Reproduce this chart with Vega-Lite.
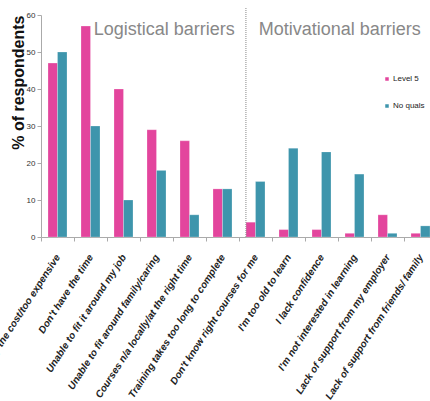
{
  "$schema": "https://vega.github.io/schema/vega-lite/v6.json",
  "autosize": "none",
  "width": 389,
  "height": 222,
  "padding": {"left": 41, "top": 15, "right": 0, "bottom": 164},
  "background": "white",
  "config": {"view": {"stroke": null}, "font": "Liberation Sans"},
  "resolve": {"axis": {"x": "independent", "y": "independent"}},
  "datasets": {
    "bars": [
      {"cat": "Put off by the cost/too expensive", "group": "Level 5", "pct": 47},
      {"cat": "Put off by the cost/too expensive", "group": "No quals", "pct": 50},
      {"cat": "Don't have the time", "group": "Level 5", "pct": 57},
      {"cat": "Don't have the time", "group": "No quals", "pct": 30},
      {"cat": "Unable to fit it around my job", "group": "Level 5", "pct": 40},
      {"cat": "Unable to fit it around my job", "group": "No quals", "pct": 10},
      {"cat": "Unable to fit around family/caring", "group": "Level 5", "pct": 29},
      {"cat": "Unable to fit around family/caring", "group": "No quals", "pct": 18},
      {"cat": "Courses n/a locally/at the right time", "group": "Level 5", "pct": 26},
      {"cat": "Courses n/a locally/at the right time", "group": "No quals", "pct": 6},
      {"cat": "Training takes too long to complete", "group": "Level 5", "pct": 13},
      {"cat": "Training takes too long to complete", "group": "No quals", "pct": 13},
      {"cat": "Don't know right courses for me", "group": "Level 5", "pct": 4},
      {"cat": "Don't know right courses for me", "group": "No quals", "pct": 15},
      {"cat": "I'm too old to learn", "group": "Level 5", "pct": 2},
      {"cat": "I'm too old to learn", "group": "No quals", "pct": 24},
      {"cat": "I lack confidence", "group": "Level 5", "pct": 2},
      {"cat": "I lack confidence", "group": "No quals", "pct": 23},
      {"cat": "I'm not interested in learning", "group": "Level 5", "pct": 1},
      {"cat": "I'm not interested in learning", "group": "No quals", "pct": 17},
      {"cat": "Lack of support from my employer", "group": "Level 5", "pct": 6},
      {"cat": "Lack of support from my employer", "group": "No quals", "pct": 1},
      {"cat": "Lack of support from friends/ family", "group": "Level 5", "pct": 1},
      {"cat": "Lack of support from friends/ family", "group": "No quals", "pct": 3}
    ],
    "headings": [
      {"cat": "Don't have the time", "label": "Logistical barriers", "y": 56},
      {"cat": "Don't know right courses for me", "label": "Motivational barriers", "y": 56}
    ],
    "divider": [
      {"cat": "Don't know right courses for me", "y0": 0, "y1": 62}
    ]
  },
  "layer": [
    {
      "data": {"name": "bars"},
      "mark": {"type": "bar", "stroke": "white", "strokeWidth": 0.4, "strokeOpacity": 0.6},
      "encoding": {
        "x": {
          "field": "cat", "type": "nominal", "sort": null,
          "scale": {
            "domain": ["Put off by the cost/too expensive", "Don't have the time", "Unable to fit it around my job", "Unable to fit around family/caring", "Courses n/a locally/at the right time", "Training takes too long to complete", "Don't know right courses for me", "I'm too old to learn", "I lack confidence", "I'm not interested in learning", "Lack of support from my employer", "Lack of support from friends/ family"],
            "range": [0, 396], "paddingInner": 0, "paddingOuter": 0
          },
          "axis": {
            "title": null, "tickBand": "extent", "labelAngle": -57,
            "labelAlign": "right", "labelBaseline": "middle",
            "labelFontSize": 10, "labelFontStyle": "italic", "labelFontWeight": "bold",
            "labelColor": "#222", "labelLimit": 400, "labelPadding": 14,
            "domainColor": "#aaa", "tickColor": "#aaa", "tickSize": 4, "labelOverlap": false
          }
        },
        "xOffset": {"field": "group", "type": "nominal", "scale": {"paddingOuter": 0.737, "paddingInner": 0}},
        "y": {
          "field": "pct", "type": "quantitative",
          "scale": {"domain": [0, 60], "nice": false},
          "axis": {
            "title": "% of respondents", "titleFontSize": 16, "titleFontWeight": "bold",
            "titleColor": "#111", "titlePadding": 0, "titleAnchor": "end", "grid": false,
            "values": [0, 10, 20, 30, 40, 50, 60], "labelOverlap": false,
            "labelFontSize": 8, "labelColor": "#333", "domainColor": "#aaa", "tickColor": "#aaa", "tickSize": 4, "labelPadding": 2
          }
        },
        "color": {
          "field": "group", "type": "nominal",
          "scale": {"domain": ["Level 5", "No quals"], "range": ["#E3459D", "#3E95AC"]},
          "legend": {
            "title": null, "orient": "none", "legendX": 342, "legendY": 60,
            "symbolType": "square", "symbolSize": 25, "labelFontSize": 8, "labelColor": "#222",
            "rowPadding": 15, "labelOffset": 2
          }
        }
      }
    },
    {
      "data": {"name": "divider"},
      "mark": {"type": "rule", "strokeDash": [1, 1], "color": "#888", "strokeWidth": 1},
      "encoding": {
        "x": {"field": "cat", "type": "nominal", "bandPosition": 0.21, "axis": null},
        "y": {"field": "y0", "type": "quantitative", "axis": null},
        "y2": {"field": "y1"}
      }
    },
    {
      "data": {"name": "headings"},
      "mark": {"type": "text", "align": "left", "baseline": "middle", "fontSize": 18, "color": "#888"},
      "encoding": {
        "x": {"field": "cat", "type": "nominal", "bandPosition": 0.6, "axis": null},
        "y": {"field": "y", "type": "quantitative", "axis": null},
        "text": {"field": "label"}
      }
    }
  ]
}
